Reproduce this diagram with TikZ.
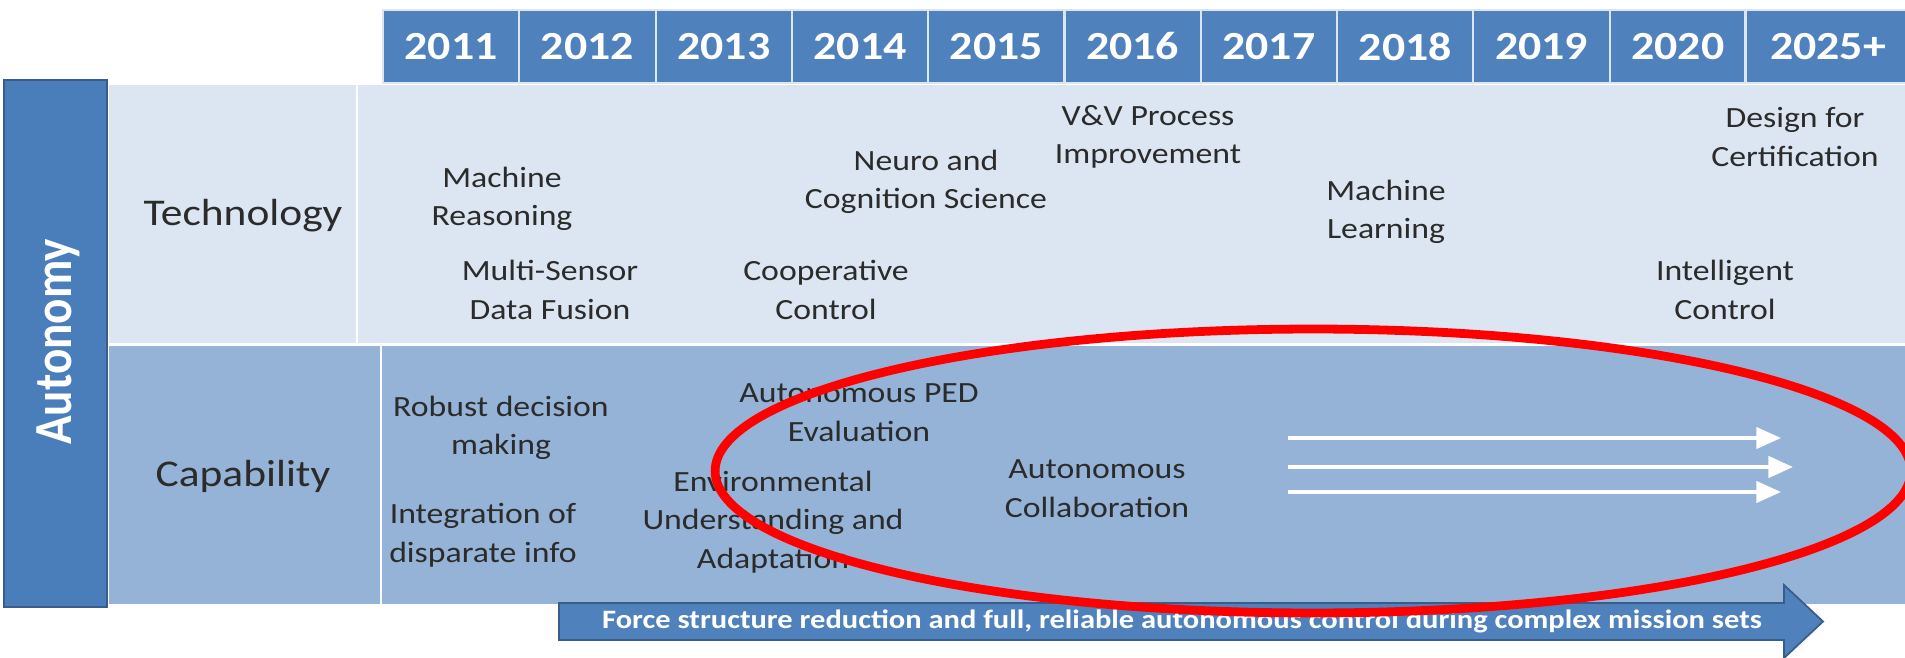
\documentclass[tikz,border=0pt]{standalone}
\usepackage{fontspec}
\setmainfont{Carlito}[FakeStretch=1.15]
\newfontfamily\sidefont{Carlito}[FakeStretch=0.88]
\usetikzlibrary{arrows.meta}
\definecolor{yearblue}{HTML}{4F81BD}
\definecolor{sideblue}{HTML}{4A7EBB}
\definecolor{techbg}{HTML}{DCE6F2}
\definecolor{capbg}{HTML}{95B3D7}
\definecolor{arrowedge}{HTML}{385D8A}
\definecolor{labelgray}{HTML}{2B2B2B}
\tikzset{
  yearbox/.style={fill=yearblue, draw=techbg, line width=1.2pt, minimum width=2.726cm, minimum height=1.46cm, text=white, font=\bfseries\fontsize{22.7}{27}\selectfont},
  rowlabel/.style={text=labelgray, font=\fontsize{21.5}{26}\selectfont},
  item/.style={align=center, inner sep=0pt, text=labelgray, font=\fontsize{16.7}{22}\selectfont},
  whitearrow/.style={draw=white, line width=2pt, -{Triangle[length=14pt,width=12pt]}}
}

\begin{document}
\begin{tikzpicture}[x=0.02cm, y=-0.02cm]
	\clip (0,0) rectangle (1905,658);
	\fill[white] (0,0) rectangle (1905,658);
	% rows
	\fill[techbg] (109,85) rectangle (1905,343);
	\fill[capbg] (109,346) rectangle (1905,604);
	\draw[white, line width=1.2pt] (357,85) -- (357,343);
	\draw[white, line width=1.2pt] (381,346) -- (381,604);
	\filldraw[fill=sideblue, draw=arrowedge, line width=0.8pt] (4,80) rectangle (107,607);
	\node[rotate=90, text=white, font=\sidefont\bfseries\fontsize{30.5}{34}\selectfont] (autonomy) at (58,342) {Autonomy};
	% years
	\foreach \yr [count=\i from 0] in {2011,2012,2013,2014,2015,2016,2017,2018,2019,2020}
		\node[yearbox] (y\yr) at ({451.15+136.3*\i},46.5) {\yr};
	\node[yearbox, minimum width=3.3cm] (y2025) at (1828,46.5) {2025+};
	\node[rowlabel] (tech) at (243,216) {Technology};
	\node[rowlabel] (cap) at (243,476) {Capability};
	% technology
	\node[item] (reason) at (502,199) {Machine\\Reasoning};
	\node[item] (fusion) at (550,290) {Multi-Sensor\\Data Fusion};
	\node[item] (neuro) at (926,182) {Neuro and\\Cognition Science};
	\node[item] (coop) at (826,290) {Cooperative\\Control};
	\node[item] (vv) at (1148,137) {V\&V Process\\Improvement};
	\node[item] (learn) at (1386,212) {Machine\\Learning};
	\node[item] (cert) at (1795,137) {Design for\\Certification};
	\node[item] (intel) at (1725,290) {Intelligent\\Control};
	% capability
	\node[item] (robust) at (501,428) {Robust decision\\making};
	\node[item] (integ) at (483,535) {Integration of\\disparate info};
	\node[item] (ped) at (859,413) {Autonomous PED\\Evaluation};
	\node[item] (env) at (773,522) {Environmental\\Understanding and\\Adaptation};
	\node[item] (collab) at (1097,489) {Autonomous\\Collaboration};
	% arrows
	\coordinate (a1) at (1288,438);
	\coordinate (b1) at (1781,438);
	\coordinate (a2) at (1288,467);
	\coordinate (b2) at (1793,467);
	\coordinate (a3) at (1288,492);
	\coordinate (b3) at (1781,492);
	\draw[whitearrow] (a1) -- (b1);
	\draw[whitearrow, line width=2.6pt] (a2) -- (b2);
	\draw[whitearrow] (a3) -- (b3);
	\filldraw[fill=yearblue, draw=arrowedge, line width=1pt] (559,603) -- (1784,603) -- (1784,585) -- (1823,621.5) -- (1784,658) -- (1784,640) -- (559,640) -- cycle;
	\node[text=white, font=\bfseries\fontsize{15.1}{17}\selectfont] (goal) at (1182,621) {Force structure reduction and full, reliable autonomous control during complex mission sets};
	\draw[red, line width=5pt] (1313,471) ellipse [x radius=11.96cm, y radius=2.84cm];
\end{tikzpicture}
\end{document}
